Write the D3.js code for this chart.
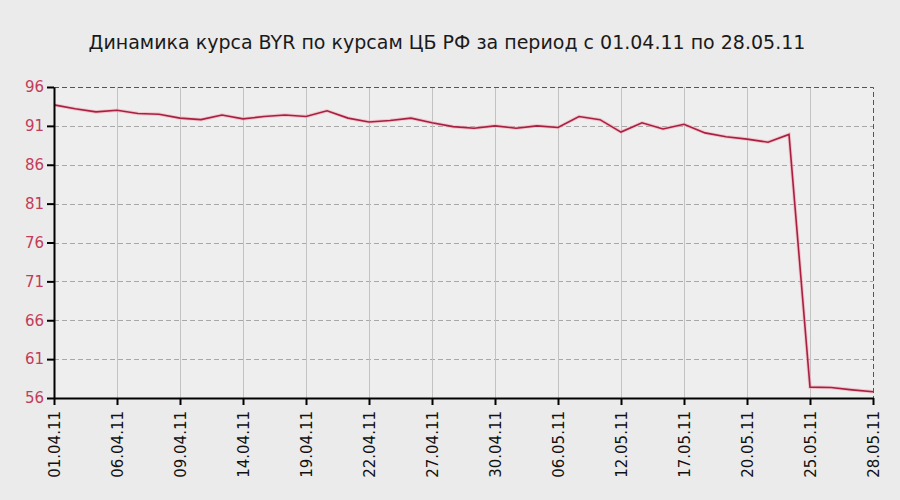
<!doctype html>
<html>
<head>
<meta charset="utf-8">
<script src="https://cdn.jsdelivr.net/npm/d3@7"></script>
<style>
html,body{
    margin: 0;
    background: #ebebeb;
    overflow: hidden;
}
text { font-family: "DejaVu Sans", Verdana, sans-serif; }
</style>
</head>
<body>
<script>
// даты котировок ЦБ (рабочие дни), подписи только у каждой третьей
var dates = ["01.04.11","02.04.11","05.04.11","06.04.11","07.04.11","08.04.11","09.04.11",
    "12.04.11","13.04.11","14.04.11","15.04.11","16.04.11","19.04.11","20.04.11","21.04.11",
    "22.04.11","23.04.11","26.04.11","27.04.11","28.04.11","29.04.11","30.04.11","04.05.11",
    "05.05.11","06.05.11","07.05.11","11.05.11","12.05.11","13.05.11","14.05.11","17.05.11",
    "18.05.11","19.05.11","20.05.11","21.05.11","24.05.11","25.05.11","26.05.11","27.05.11","28.05.11"];
var rates = [93.7,93.2,92.8,93.0,92.6,92.5,92.0,91.8,92.4,91.9,92.2,
    92.4,92.2,92.95,92.0,91.5,91.7,92.0,91.4,90.9,90.7,91.0,90.7,91.0,90.8,
    92.2,91.8,90.2,91.4,90.6,91.2,90.1,89.6,89.3,88.9,89.9,57.4,57.35,57.05,56.8];
var tickDates = ["01.04.11","06.04.11","09.04.11","14.04.11","19.04.11","22.04.11","27.04.11",
    "30.04.11","06.05.11","12.05.11","17.05.11","20.05.11","25.05.11","28.05.11"];
var yTicks = [56,61,66,71,76,81,86,91,96];
var title = "Динамика курса BYR по курсам ЦБ РФ за период с 01.04.11 по 28.05.11";

(function(){
    var w = 900, h = 500,
        pLeft = 54, pRight = 873, pTop = 87, pBottom = 398;

    var svg = d3.select("body").append("svg")
        .attr("width", w)
        .attr("height", h);

    var x = d3.scalePoint().domain(dates).range([pLeft, pRight]);
    var y = d3.scaleLinear().domain([56, 96]).range([pBottom, pTop]);

    svg.append("rect")
        .attr("x", pLeft).attr("y", pTop)
        .attr("width", pRight - pLeft).attr("height", pBottom - pTop)
        .attr("fill", "#eeeeee");

    // сетка
    svg.append("g").selectAll("line").data(yTicks.slice(1, -1)).enter().append("line")
        .attr("x1", pLeft).attr("x2", pRight)
        .attr("y1", function(d){return Math.round(y(d)) + 0.5})
        .attr("y2", function(d){return Math.round(y(d)) + 0.5})
        .attr("stroke", "#a8a8a8")
        .attr("stroke-dasharray", "5,3");

    svg.append("g").selectAll("line").data(tickDates.slice(1, -1)).enter().append("line")
        .attr("x1", function(d){return Math.round(x(d)) + 0.5})
        .attr("x2", function(d){return Math.round(x(d)) + 0.5})
        .attr("y1", pTop).attr("y2", pBottom)
        .attr("stroke", "#c2c2c2");

    // верхняя и правая рамка
    svg.append("path")
        .attr("d", "M" + pLeft + "," + (pTop + 0.5) + "H" + (pRight + 0.5) + "V" + pBottom)
        .attr("fill", "none")
        .attr("stroke", "#555")
        .attr("stroke-dasharray", "5,3");

    // линия курса
    var line = d3.line()
        .x(function(d, i){return x(dates[i])})
        .y(function(d){return y(d)});
    svg.append("path")
        .datum(rates)
        .attr("fill", "none")
        .attr("stroke", "#f4a8b8")
        .attr("stroke-width", 3.5)
        .attr("stroke-opacity", 0.6)
        .attr("d", line);
    svg.append("path")
        .datum(rates)
        .attr("fill", "none")
        .attr("stroke", "#a8203f")
        .attr("stroke-width", 1.6)
        .attr("d", line);

    // оси
    var yAxis = svg.append("g")
        .attr("transform", "translate(" + pLeft + ",0)")
        .call(d3.axisLeft(y).tickValues(yTicks).tickSize(7).tickSizeOuter(0).tickPadding(3));
    yAxis.select(".domain").attr("stroke", "#000").attr("stroke-width", 2);
    yAxis.selectAll(".tick line").attr("stroke", "#000").attr("stroke-width", 2);
    yAxis.selectAll(".tick text")
        .attr("fill", "#c23c5a")
        .style("font-size", "15px")
        .style("font-family", "\"DejaVu Sans\", sans-serif");

    var xAxis = svg.append("g")
        .attr("transform", "translate(0," + pBottom + ")")
        .call(d3.axisBottom(x).tickValues(tickDates).tickSize(7).tickSizeOuter(0));
    xAxis.select(".domain").attr("stroke", "#000").attr("stroke-width", 2);
    xAxis.selectAll(".tick line").attr("stroke", "#000").attr("stroke-width", 2);
    xAxis.selectAll(".tick text")
        .attr("fill", "#111")
        .style("font-size", "15px")
        .style("font-family", "\"DejaVu Sans\", sans-serif")
        .attr("transform", "rotate(-90)")
        .attr("text-anchor", "end")
        .attr("x", -13)
        .attr("y", 0)
        .attr("dy", "0.35em");

    svg.append("text")
        .attr("x", 447).attr("y", 49)
        .attr("text-anchor", "middle")
        .attr("fill", "#1a1a1a")
        .style("font-size", "19px")
        .text(title);
})();
</script>
</body>
</html>
